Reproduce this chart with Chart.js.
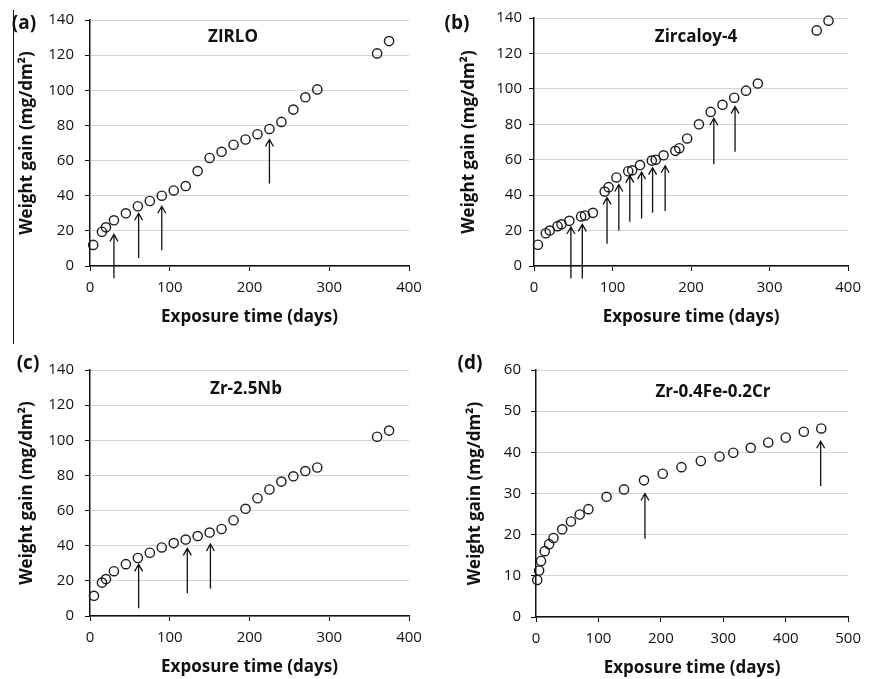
<!DOCTYPE html>
<html>
<head>
<meta charset="utf-8">
<script src="https://cdn.jsdelivr.net/npm/chart.js@4/dist/chart.umd.min.js"></script>
<style>
    body { margin: 0; background: #fff; width: 869px; height: 679px; position: relative; overflow: hidden; font-family: "Open Sans", sans-serif; }
    .panel { position: absolute; }
    .lbl { position: absolute; font-weight: bold; color: #111; white-space: nowrap; transform: translate(-50%, -50%); line-height: 1; }
    .tag { font-size: 19px; }
    .alloy { font-size: 17px; }
    .edge { position: absolute; left: 13px; top: 10px; width: 1px; height: 334px; background: #111; }
</style>
</head>
<body>
<div class="edge"></div>

<div class="panel" style="left:0px;top:0px;width:435px;height:330px"><canvas id="chartA"></canvas></div>
<div class="panel" style="left:435px;top:0px;width:434px;height:330px"><canvas id="chartB"></canvas></div>
<div class="panel" style="left:0px;top:330px;width:435px;height:349px"><canvas id="chartC"></canvas></div>
<div class="panel" style="left:435px;top:330px;width:434px;height:349px"><canvas id="chartD"></canvas></div>

<div class="lbl tag" style="left:24px;top:22px">(a)</div>
<div class="lbl tag" style="left:457px;top:22px">(b)</div>
<div class="lbl tag" style="left:28px;top:362px">(c)</div>
<div class="lbl tag" style="left:470px;top:362px">(d)</div>
<div class="lbl alloy" style="left:233px;top:35px">ZIRLO</div>
<div class="lbl alloy" style="left:696px;top:35px">Zircaloy-4</div>
<div class="lbl alloy" style="left:246px;top:387px">Zr-2.5Nb</div>
<div class="lbl alloy" style="left:713px;top:390px">Zr-0.4Fe-0.2Cr</div>

<script>
// (a) ZIRLO
var daysA = [4, 15, 20, 30, 45, 60, 75, 90, 105, 120, 135, 150, 165, 180, 195, 210, 225, 240, 255, 270, 285, 360, 375];
var gainA = [12, 19.5, 22, 26, 30, 34, 37, 40, 43, 45.5, 54, 61.5, 65, 69, 72, 75, 78, 82, 89, 96, 100.5, 121, 128];
var arrowDaysA = [30, 61, 90, 225];
var arrowFromA = [-7, 4.5, 9, 47];
var arrowToA = [18, 30, 34, 72];

// (b) Zircaloy-4
var daysB = [5, 15, 20, 30, 35, 45, 60, 65, 75, 90, 95, 105, 120, 125, 135, 150, 155, 165, 180, 185, 195, 210, 225, 240, 255, 270, 285, 360, 375];
var gainB = [12, 18.5, 20, 22.5, 23.5, 25.5, 28, 28.5, 30, 42, 44.5, 50, 53.5, 54, 57, 59.5, 60, 62.5, 65, 66.5, 72, 80, 87, 91, 95, 99, 103, 133, 138.5];
var arrowDaysB = [47, 61.5, 93, 108, 122, 137, 151, 167, 229, 256];
var arrowFromB = [-7, -7, 12.6, 20, 25, 26.8, 30, 31, 57.5, 64.5];
var arrowToB = [22, 23.5, 38.7, 46, 51, 53, 55.5, 56.6, 83.4, 90];

// (c) Zr-2.5Nb
var daysC = [5, 15, 20, 30, 45, 60, 75, 90, 105, 120, 135, 150, 165, 180, 195, 210, 225, 240, 255, 270, 285, 360, 375];
var gainC = [11.5, 19, 21, 25.5, 29.5, 33, 36, 39, 41.5, 43.5, 45.5, 47.5, 49.5, 54.5, 61, 67, 72, 76.5, 79.5, 82.5, 84.5, 102, 105.5];
var arrowDaysC = [61, 122, 151];
var arrowFromC = [4.4, 12.9, 15.7];
var arrowToC = [29.4, 38.5, 41];

// (d) Zr-0.4Fe-0.2Cr
var daysD = [2, 5, 8, 14, 21, 28, 42, 56, 70, 84, 113, 141, 173, 203, 233, 264, 294, 316, 344, 372, 400, 429, 457];
var gainD = [9, 11.3, 13.6, 16, 17.7, 19.2, 21.3, 23.2, 24.9, 26.2, 29.2, 31, 33.2, 34.8, 36.4, 37.9, 39, 39.9, 41.1, 42.4, 43.6, 45, 45.8];
var arrowDaysD = [174.5, 456];
var arrowFromD = [19, 31.8];
var arrowToD = [30, 42.7];

// axis ranges / tick steps
var xMaxABC = 400, xMaxD = 500, xStep = 100;
var yMaxABC = 140, yStepABC = 20;
var yMaxD = 60, yStepD = 10;

var xTitle = 'Exposure time (days)';
var yTitle = 'Weight gain (mg/dm\u00B2)';

// draws the up arrows, in data units, on top of the points
var arrowPlugin = {
    id: 'arrows',
    afterDatasetsDraw: function (chart, args, opts) {
        var xs = chart.scales.x, ys = chart.scales.y, ctx = chart.ctx;
        ctx.save();
        ctx.strokeStyle = '#111';
        ctx.lineWidth = 1.3;
        opts.days.forEach(function (d, i) {
            var px = xs.getPixelForValue(d);
            var y1 = ys.getPixelForValue(opts.from[i]);
            var y2 = ys.getPixelForValue(opts.to[i]);
            ctx.beginPath();
            ctx.moveTo(px, y1);
            ctx.lineTo(px, y2);
            ctx.moveTo(px - 4, y2 + 7);
            ctx.lineTo(px, y2);
            ctx.lineTo(px + 4, y2 + 7);
            ctx.stroke();
        });
        ctx.restore();
    }
};

function makePanel(id, days, gain, arrows, xMax, yMax, yStep, box) {
    var pts = days.map(function (d, i) { return { x: d, y: gain[i] }; });
    var ctx = document.getElementById(id).getContext('2d');
    return new Chart(ctx, {
        type: 'scatter',
        data: {
            datasets: [{
                data: pts,
                pointStyle: 'circle',
                pointRadius: 4.6,
                pointHoverRadius: 4.6,
                borderWidth: 1.4,
                borderColor: '#1a1a1a',
                backgroundColor: 'rgba(255,255,255,0)',
                clip: false
            }]
        },
        plugins: [arrowPlugin],
        options: {
            responsive: true,
            maintainAspectRatio: false,
            animation: false,
            layout: {
                padding: { left: 0, top: box.top, right: box.right, bottom: box.bottom }
            },
            plugins: {
                legend: { display: false },
                tooltip: { enabled: false },
                arrows: arrows
            },
            scales: {
                x: {
                    type: 'linear',
                    min: 0,
                    max: xMax,
                    afterFit: function (s) { s.height = 61; },
                    ticks: {
                        stepSize: xStep,
                        padding: 8,
                        color: '#111',
                        font: { family: 'Open Sans', size: 15 }
                    },
                    grid: {
                        drawOnChartArea: false,
                        tickLength: 5,
                        tickColor: '#111'
                    },
                    border: { color: '#111', width: 1.5 },
                    title: {
                        display: true,
                        text: xTitle,
                        color: '#111',
                        padding: { top: 0, bottom: 0 },
                        font: { family: 'Open Sans', size: 17, weight: 'bold' }
                    }
                },
                y: {
                    type: 'linear',
                    min: 0,
                    max: yMax,
                    afterFit: function (s) { s.width = box.left; },
                    ticks: {
                        stepSize: yStep,
                        padding: box.tickPad,
                        color: '#111',
                        font: { family: 'Open Sans', size: 15 }
                    },
                    grid: {
                        color: '#d6d6d6', // Color of grid lines
                        tickColor: '#111',
                        tickLength: 5
                    },
                    border: { color: '#111', width: 1.5 },
                    title: {
                        display: true,
                        text: yTitle,
                        color: '#111',
                        padding: { top: box.titlePad, bottom: 0 },
                        font: { family: 'Open Sans', size: 17, weight: 'bold' }
                    }
                }
            }
        }
    });
}

makePanel('chartA', daysA, gainA, { days: arrowDaysA, from: arrowFromA, to: arrowToA }, xMaxABC, yMaxABC, yStepABC,
    { left: 90, top: 18, right: 26, bottom: 3, tickPad: 11, titlePad: 17 });
makePanel('chartB', daysB, gainB, { days: arrowDaysB, from: arrowFromB, to: arrowToB }, xMaxABC, yMaxABC, yStepABC,
    { left: 99, top: 18, right: 15, bottom: 3, tickPad: 7, titlePad: 24 });
makePanel('chartC', daysC, gainC, { days: arrowDaysC, from: arrowFromC, to: arrowToC }, xMaxABC, yMaxABC, yStepABC,
    { left: 90, top: 40, right: 26, bottom: 2, tickPad: 11, titlePad: 17 });
makePanel('chartD', daysD, gainD, { days: arrowDaysD, from: arrowFromD, to: arrowToD }, xMaxD, yMaxD, yStepD,
    { left: 101, top: 40, right: 14, bottom: 1, tickPad: 10, titlePad: 30 });
</script>
</body>
</html>
